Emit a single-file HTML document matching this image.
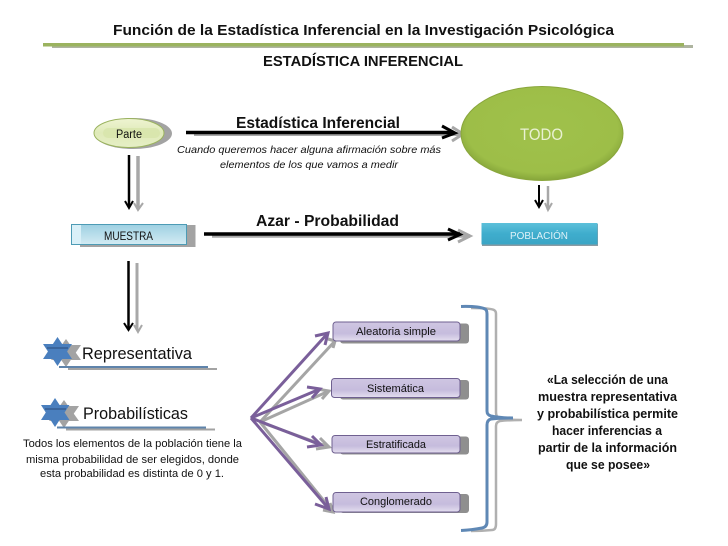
<!DOCTYPE html>
<html>
<head>
<meta charset="utf-8">
<style>
html,body{margin:0;padding:0;background:#fff;width:728px;height:546px;overflow:hidden}
svg{display:block}
text{font-family:"Liberation Sans",sans-serif;fill:#111}
</style>
</head>
<body>
<svg width="728" height="546" viewBox="0 0 728 546" xmlns="http://www.w3.org/2000/svg">
<defs>
<radialGradient id="todo" cx="0.5" cy="0.45" r="0.55"><stop offset="0" stop-color="#a0c14b"/><stop offset="0.85" stop-color="#9dbe48"/><stop offset="1" stop-color="#86a63a"/></radialGradient>
<linearGradient id="parte" x1="0" y1="0" x2="0" y2="1"><stop offset="0" stop-color="#eef4d2"/><stop offset="0.5" stop-color="#dfeab8"/><stop offset="1" stop-color="#e6efc6"/></linearGradient>
<linearGradient id="muestra" x1="0" y1="0" x2="0" y2="1"><stop offset="0" stop-color="#9ed0e2"/><stop offset="1" stop-color="#d3ebf3"/></linearGradient>
<linearGradient id="pob" x1="0" y1="0" x2="0" y2="1"><stop offset="0" stop-color="#5cc0da"/><stop offset="0.5" stop-color="#3fadcd"/><stop offset="1" stop-color="#3aa5c5"/></linearGradient>
<linearGradient id="pur" x1="0" y1="0" x2="0" y2="1"><stop offset="0" stop-color="#cfc6e2"/><stop offset="0.6" stop-color="#c6bcdd"/><stop offset="1" stop-color="#e4deef"/></linearGradient>
</defs>

<!-- header -->
<text x="113" y="35" font-size="14.5" font-weight="bold" textLength="501" lengthAdjust="spacingAndGlyphs">Función de la Estadística Inferencial en la Investigación Psicológica</text>
<rect x="52" y="45" width="641" height="3" fill="#aeb4a0"/>
<rect x="43" y="43" width="641" height="3.5" fill="#9bb35f"/>
<text x="263" y="66" font-size="14.5" font-weight="bold" textLength="200" lengthAdjust="spacingAndGlyphs">ESTADÍSTICA INFERENCIAL</text>

<!-- Parte -->
<ellipse cx="133" cy="133.5" rx="39" ry="15.5" fill="#a3a3a3"/>
<ellipse cx="129" cy="133" rx="35" ry="14.5" fill="url(#parte)" stroke="#9bb35f" stroke-width="1"/>
<rect x="103" y="128" width="57" height="10" rx="5" fill="#d6e4a8" opacity="0.7"/>
<text x="116" y="138" font-size="11.5" textLength="26" lengthAdjust="spacingAndGlyphs">Parte</text>

<!-- Estadistica Inferencial arrow -->
<text x="236" y="128" font-size="15.5" font-weight="bold" textLength="164" lengthAdjust="spacingAndGlyphs">Estadística Inferencial</text>
<path d="M194 134H462" stroke="#a8a8a8" stroke-width="4" fill="none"/>
<polyline points="452,127 463,134 452,141" stroke="#a8a8a8" stroke-width="3" fill="none"/>
<path d="M186 132.5H454" stroke="#000" stroke-width="3.5" fill="none"/>
<polyline points="442,126 455,133 442,138" stroke="#000" stroke-width="3" fill="none"/>
<text x="177" y="153" font-size="10.5" font-style="italic" textLength="264" lengthAdjust="spacingAndGlyphs">Cuando queremos hacer alguna afirmación sobre más</text>
<text x="220" y="168" font-size="10.5" font-style="italic" textLength="178" lengthAdjust="spacingAndGlyphs">elementos de los que vamos a medir</text>

<!-- TODO -->
<ellipse cx="542" cy="133.5" rx="81" ry="47" fill="url(#todo)" stroke="#8aa63c" stroke-width="1"/>
<text x="520" y="140" font-size="17" style="fill:#e9f1d2" textLength="43" lengthAdjust="spacingAndGlyphs">TODO</text>

<!-- arrows under Parte -->
<path d="M138 156V208" stroke="#a8a8a8" stroke-width="3.5" fill="none"/>
<polyline points="134,203 138,210 143,203" stroke="#a8a8a8" stroke-width="2" fill="none"/>
<path d="M129 155V207" stroke="#000" stroke-width="2.5" fill="none"/>
<polyline points="125,201 129,208 133,201" stroke="#000" stroke-width="2" fill="none"/>

<!-- arrows under TODO -->
<path d="M548 186V210" stroke="#a8a8a8" stroke-width="2.5" fill="none"/>
<polyline points="545,203 548,210 552,203" stroke="#a8a8a8" stroke-width="2" fill="none"/>
<path d="M539 185V207" stroke="#000" stroke-width="2" fill="none"/>
<polyline points="535,200 539,207 543,200" stroke="#000" stroke-width="2" fill="none"/>

<!-- MUESTRA -->
<rect x="80" y="225" width="115.5" height="22" fill="#a3a3a3"/>
<rect x="71.5" y="224.5" width="115" height="20" fill="url(#muestra)" stroke="#4d9bb5" stroke-width="1"/>
<rect x="72" y="225" width="9" height="19" fill="#d9f0f8"/>
<text x="104" y="240" font-size="11.5" textLength="49" lengthAdjust="spacingAndGlyphs">MUESTRA</text>

<!-- Azar -->
<text x="256" y="226" font-size="15.5" font-weight="bold" textLength="143" lengthAdjust="spacingAndGlyphs">Azar - Probabilidad</text>
<path d="M212 236H470" stroke="#a8a8a8" stroke-width="3.5" fill="none"/>
<polyline points="458,230 470,236 458,242" stroke="#a8a8a8" stroke-width="3" fill="none"/>
<path d="M204 234H460" stroke="#000" stroke-width="3.5" fill="none"/>
<polyline points="448,229 460,234.5 448,240" stroke="#000" stroke-width="3" fill="none"/>

<!-- POBLACION -->
<rect x="482" y="224" width="116" height="22" fill="#8a9ba3"/>
<rect x="481.5" y="223" width="116" height="21.5" fill="url(#pob)"/>
<text x="510" y="239" font-size="10.5" style="fill:#dff2f8" textLength="58" lengthAdjust="spacingAndGlyphs">POBLACIÓN</text>

<!-- arrows under MUESTRA -->
<path d="M137 263V330" stroke="#a8a8a8" stroke-width="3" fill="none"/>
<polyline points="134,325 138,332 142,325" stroke="#a8a8a8" stroke-width="2" fill="none"/>
<path d="M128.5 261V329" stroke="#000" stroke-width="2.5" fill="none"/>
<polyline points="124,323 128.5,330 133,323" stroke="#000" stroke-width="2" fill="none"/>

<!-- Representativa -->
<g fill="#a3a3a3"><polygon points="66,339 81,360 51,360"/><polygon points="66,367 81,345 51,345"/></g>
<g fill="#4a7fbe"><polygon points="57.5,337 72,359 43,359"/><polygon points="57.5,366 72,344 43,344"/></g>
<rect x="47" y="347" width="21" height="2" fill="#3a659c"/>
<text x="82" y="359" font-size="17" textLength="110" lengthAdjust="spacingAndGlyphs">Representativa</text>
<rect x="68" y="368" width="149" height="2" fill="#a3a3a3"/>
<rect x="59" y="366" width="149" height="2" fill="#5f84ab"/>

<!-- Probabilisticas -->
<g fill="#a3a3a3"><polygon points="64,400 79,421 49,421"/><polygon points="64,428 79,406 49,406"/></g>
<g fill="#4a7fbe"><polygon points="55,398 69.5,420 41,420"/><polygon points="55,427 69.5,405 41,405"/></g>
<rect x="45" y="408" width="21" height="2" fill="#3a659c"/>
<text x="83" y="419" font-size="17" textLength="105" lengthAdjust="spacingAndGlyphs">Probabilísticas</text>
<rect x="66" y="428.5" width="149" height="2" fill="#a3a3a3"/>
<rect x="57" y="426.5" width="149" height="2" fill="#5f84ab"/>

<text x="23" y="447" font-size="11" textLength="219" lengthAdjust="spacingAndGlyphs">Todos los elementos de la población tiene la</text>
<text x="26" y="463" font-size="11" textLength="213" lengthAdjust="spacingAndGlyphs">misma probabilidad de ser elegidos, donde</text>
<text x="40" y="477" font-size="11" textLength="184" lengthAdjust="spacingAndGlyphs">esta probabilidad es distinta de 0 y 1.</text>

<!-- fan arrows gray -->
<g stroke="#a5a5a5" stroke-width="3" fill="none">
<path d="M260 422L335 341"/><polyline points="328,339 335,341 333,348"/>
<path d="M260 422L329 391"/><polyline points="317,389 329,391 322,399"/>
<path d="M260 422L329 447"/><polyline points="320,438 329,447 316,449"/>
<path d="M260 422L333 512"/><polyline points="330,503 333,512 323,510"/>
</g>
<!-- fan arrows purple -->
<g stroke="#7a5f9a" stroke-width="3" fill="none">
<path d="M251 418L328 333"/><polyline points="315,336 328,333 325,345"/>
<path d="M251 418L320 389"/><polyline points="307,387 320,389 312,398"/>
<path d="M251 418L321 445"/><polyline points="312,436 321,445 307,447"/>
<path d="M251 418L329 509"/><polyline points="326,497 329,509 315,504"/>
</g>

<!-- purple boxes -->
<g fill="#8f8f8f">
<rect x="340" y="323.5" width="129" height="20" rx="3"/>
<rect x="340" y="380" width="129" height="19.5" rx="3"/>
<rect x="340" y="436.5" width="129" height="18" rx="3"/>
<rect x="340" y="494" width="129" height="19" rx="3"/>
</g>
<g fill="url(#pur)" stroke="#6f6090" stroke-width="1">
<rect x="333" y="322" width="127" height="19" rx="3"/>
<rect x="331.5" y="378.5" width="128.5" height="19" rx="3"/>
<rect x="332" y="435.5" width="128" height="17.5" rx="3"/>
<rect x="333" y="492.5" width="127" height="19.5" rx="3"/>
</g>
<text x="356" y="335" font-size="11" textLength="80" lengthAdjust="spacingAndGlyphs">Aleatoria simple</text>
<text x="367" y="392" font-size="11" textLength="57" lengthAdjust="spacingAndGlyphs">Sistemática</text>
<text x="366" y="448" font-size="11" textLength="60" lengthAdjust="spacingAndGlyphs">Estratificada</text>
<text x="360" y="505" font-size="11" textLength="72" lengthAdjust="spacingAndGlyphs">Conglomerado</text>

<!-- bracket -->
<path d="M471 308Q490 308 494 310Q496 311 496 314V412Q496 418 500 419Q510 420 522 420Q508 420 500 421Q496 422 496 426V524Q496 530 492 530Q482 531 471 531" stroke="#b0b0b0" stroke-width="2.5" fill="none"/>
<path d="M461 306.5Q478 306 485 309Q487 310 487 314V411Q487 415 491 416Q500 418 513 418Q500 418 491 419Q487 420 487 425V522Q487 527 482 528Q472 530 461 530.5" stroke="#5f88b5" stroke-width="3" fill="none"/>

<!-- quote -->
<g font-size="13" font-weight="bold">
<text x="547" y="384" textLength="121" lengthAdjust="spacingAndGlyphs">«La selección de una</text>
<text x="538" y="401" textLength="139" lengthAdjust="spacingAndGlyphs">muestra representativa</text>
<text x="537" y="418" textLength="141" lengthAdjust="spacingAndGlyphs">y probabilística permite</text>
<text x="552" y="435" textLength="110" lengthAdjust="spacingAndGlyphs">hacer inferencias a</text>
<text x="538" y="452" textLength="139" lengthAdjust="spacingAndGlyphs">partir de la información</text>
<text x="566" y="469" textLength="84" lengthAdjust="spacingAndGlyphs">que se posee»</text>
</g>
</svg>
</body>
</html>
